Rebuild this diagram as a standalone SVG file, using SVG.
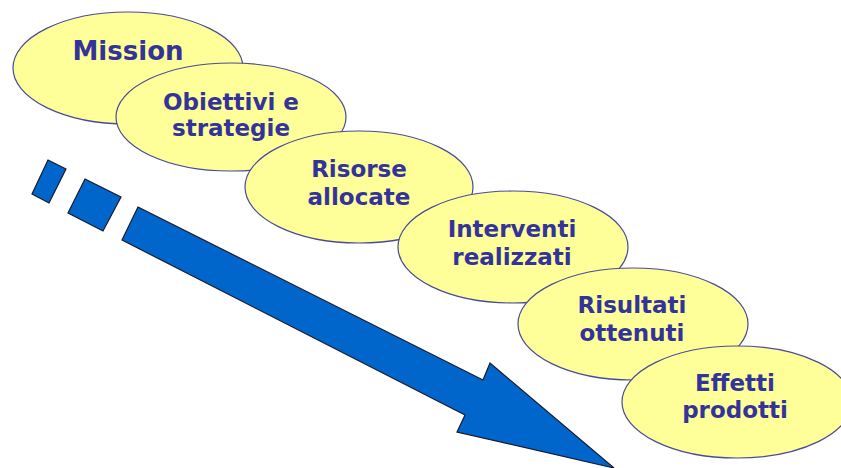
<svg xmlns="http://www.w3.org/2000/svg" width="841" height="468" viewBox="0 0 841 468">
<style>
.e{fill:#FFFF99;stroke:#4A4A9A;stroke-width:1.2}
.t{font-family:"DejaVu Sans",Verdana,sans-serif;font-weight:bold;font-size:23px;fill:#333399;text-anchor:middle}
.b{fill:#0066CC;stroke:#1A1A2A;stroke-width:1.2;stroke-linejoin:miter}
</style>
<rect width="841" height="468" fill="#FFFFFF"/>
<g id="connectors">
<polygon class="b" points="48,160 66,169 49,203 32,194"/>
<polygon class="b" points="85,179 121,197 103,231 68,213"/>
<polygon class="b" points="138,207 483,380 490,363 614,468 457,432 465,415 122,240"/>
</g>
<g id="mission"><ellipse class="e" cx="128" cy="68" rx="115" ry="56"/><text class="t" x="128" y="60" style="font-size:26px">Mission</text></g>
<g id="obiettivi"><ellipse class="e" cx="231" cy="117" rx="115" ry="54"/><text class="t" x="231" y="110">Obiettivi e</text><text class="t" x="231" y="136">strategie</text></g>
<g id="risorse"><ellipse class="e" cx="359" cy="187" rx="114" ry="56"/><text class="t" x="359" y="177">Risorse</text><text class="t" x="359" y="205">allocate</text></g>
<g id="interventi"><ellipse class="e" cx="513" cy="247" rx="115" ry="56"/><text class="t" x="512" y="237">Interventi</text><text class="t" x="512" y="265">realizzati</text></g>
<g id="risultati"><ellipse class="e" cx="633" cy="324" rx="115" ry="56"/><text class="t" x="632" y="313">Risultati</text><text class="t" x="632" y="341">ottenuti</text></g>
<g id="effetti"><ellipse class="e" cx="737" cy="402" rx="115" ry="56"/><text class="t" x="735" y="391">Effetti</text><text class="t" x="735" y="418">prodotti</text></g>
</svg>
